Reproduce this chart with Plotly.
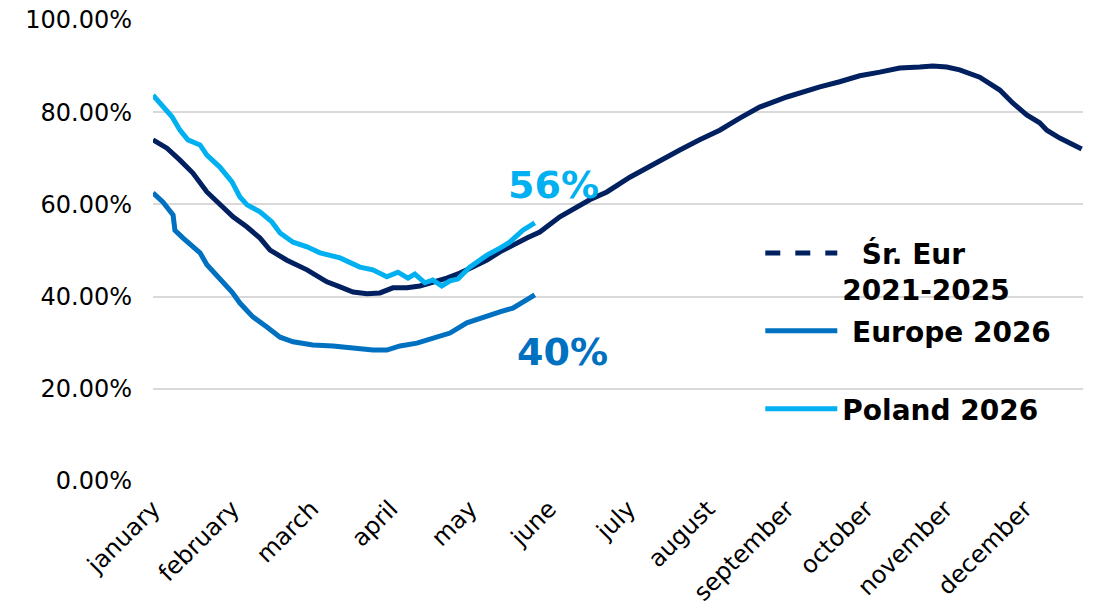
import plotly.graph_objects as go

# x positions in "day index" units (30 units per month label)
months = ["january", "february", "march", "april", "may", "june", "july",
          "august", "september", "october", "november", "december"]
month_pos = [0, 30, 60, 90, 120, 150, 180, 210, 240, 270, 300, 330]

avg_x = [0, 5.3, 10.2, 15.1, 20.4, 25.3, 30.3, 35.6, 40.5, 44.3, 50.7, 58.3, 65.8, 70.8,
         75.7, 81.0, 85.9, 90.8, 96.1, 101.0, 105.9, 111.2, 116.2, 121.1, 126.4, 131.3,
         136.2, 141.5, 146.4, 154.0, 165.3, 171.8, 180.5, 190.7, 199.4, 206.9, 214.5,
         222.1, 229.6, 239.9, 244.8, 252.4, 259.9, 267.5, 275.1, 282.6, 290.2, 295.1,
         300.4, 305.3, 312.9, 320.5, 325.4, 330.7, 335.6, 338.3, 343.2, 351.5]
avg_y = [74.0, 72.2, 69.6, 66.8, 62.7, 59.9, 57.3, 55.1, 52.7, 50.1, 47.9, 45.8, 43.2, 42.1,
         41.0, 40.6, 40.8, 41.9, 41.9, 42.3, 43.0, 44.0, 45.1, 46.4, 47.9, 49.7,
         51.2, 52.7, 54.0, 57.3, 61.0, 62.7, 65.9, 69.2, 71.8, 74.0, 76.1,
         78.7, 81.1, 83.3, 84.2, 85.5, 86.6, 87.9, 88.7, 89.6, 89.8, 90.0,
         89.8, 89.2, 87.6, 84.8, 82.0, 79.4, 77.7, 76.1, 74.4, 72.0]

eu_x = [0, 3.8, 7.6, 8.3, 11.4, 17.8, 20.4, 25.3, 29.9, 32.9, 37.8, 43.1, 48.1, 53.0,
        60.5, 68.1, 75.7, 83.2, 88.5, 93.5, 99.9, 105.9, 112.4, 118.8, 124.9, 131.3,
        136.2, 140.0, 144.5]
eu_y = [62.5, 60.5, 57.7, 54.4, 52.7, 49.5, 46.9, 44.0, 41.0, 38.6, 35.6, 33.4, 31.2, 30.2,
        29.5, 29.3, 28.9, 28.4, 28.4, 29.3, 29.9, 31.0, 32.1, 34.3, 35.6, 36.7,
        37.5, 38.8, 40.4]

pl_x = [0, 2.6, 7.2, 10.2, 13.2, 17.8, 20.4, 25.3, 29.9, 32.9, 35.6, 40.5, 45.0, 48.1,
        53.0, 58.3, 63.2, 70.8, 73.8, 78.3, 83.2, 88.5, 92.7, 96.5, 99.1, 102.9, 105.9,
        109.3, 112.4, 115.4, 119.9, 126.4, 131.3, 135.0, 140.0, 144.5]
pl_y = [83.7, 82.0, 79.0, 76.1, 74.0, 72.9, 70.7, 68.1, 64.9, 61.6, 59.9, 58.4, 56.2, 53.8,
        51.8, 50.8, 49.5, 48.4, 47.5, 46.4, 45.8, 44.3, 45.3, 44.0, 44.9, 43.0, 43.6,
        42.3, 43.4, 43.8, 46.4, 49.0, 50.5, 51.8, 54.4, 56.0]

NAVY = "#002060"
EU = "#0070C0"
PL = "#00B0F0"
FONT = "DejaVu Sans"

fig = go.Figure()
fig.add_trace(go.Scatter(x=avg_x, y=[v / 100 for v in avg_y], mode="lines",
                         line=dict(color=NAVY, width=5), showlegend=False,
                         name="Śr. Eur 2021-2025"))
fig.add_trace(go.Scatter(x=eu_x, y=[v / 100 for v in eu_y], mode="lines",
                         line=dict(color=EU, width=5), name="\u00a0Europe 2026<br> ",
                         legendrank=2, legendgroup="b"))
fig.add_trace(go.Scatter(x=pl_x, y=[v / 100 for v in pl_y], mode="lines",
                         line=dict(color=PL, width=5), name="Poland 2026",
                         legendrank=3, legendgroup="c"))
# legend entry for the average (dashed symbol as in the original legend)
fig.add_trace(go.Scatter(x=[None], y=[None], mode="lines",
                         line=dict(color=NAVY, width=5, dash="dash"),
                         name="\u00a0\u00a0Śr. Eur<br>2021-2025", legendrank=1, legendgroup="a"))

fig.add_annotation(x=pl_x[-1] + 7, y=0.642, xref="x", yref="y",
                   text=f"{round(pl_y[-1]):.0f}%", showarrow=False,
                   font=dict(family=FONT, size=38, color=PL, weight="bold"))
fig.add_annotation(x=eu_x[-1] + 10.6, y=0.28, xref="x", yref="y",
                   text=f"{round(eu_y[-1]):.0f}%", showarrow=False,
                   font=dict(family=FONT, size=38, color=EU, weight="bold"))

fig.update_layout(
    width=1094, height=614,
    margin=dict(l=153, r=11, t=20, b=133),
    paper_bgcolor="white", plot_bgcolor="white",
    font=dict(family=FONT, size=24, color="#000000"),
    legend=dict(x=0.653, y=0.548, xanchor="left", yanchor="top",
                font=dict(family=FONT, size=28, color="#000000", weight="bold"),
                valign="top", tracegroupgap=2, bgcolor="rgba(0,0,0,0)",
                traceorder="grouped", itemwidth=72),
    xaxis=dict(range=[0, 352], tickmode="array", tickvals=month_pos, ticktext=months,
               tickangle=-45, showgrid=False, zeroline=False, showline=False,
               ticks="", automargin=False, ticklabelstandoff=8,
               tickfont=dict(size=24, family=FONT)),
    yaxis=dict(range=[0, 1], tickformat=".2%", dtick=0.2, tick0=0,
               showgrid=True, gridcolor="#D9D9D9", gridwidth=2,
               zeroline=False, showline=False, ticks="", automargin=False,
               ticklabelstandoff=20, tickfont=dict(size=24, family=FONT)),
)

fig.write_html("out.html")
